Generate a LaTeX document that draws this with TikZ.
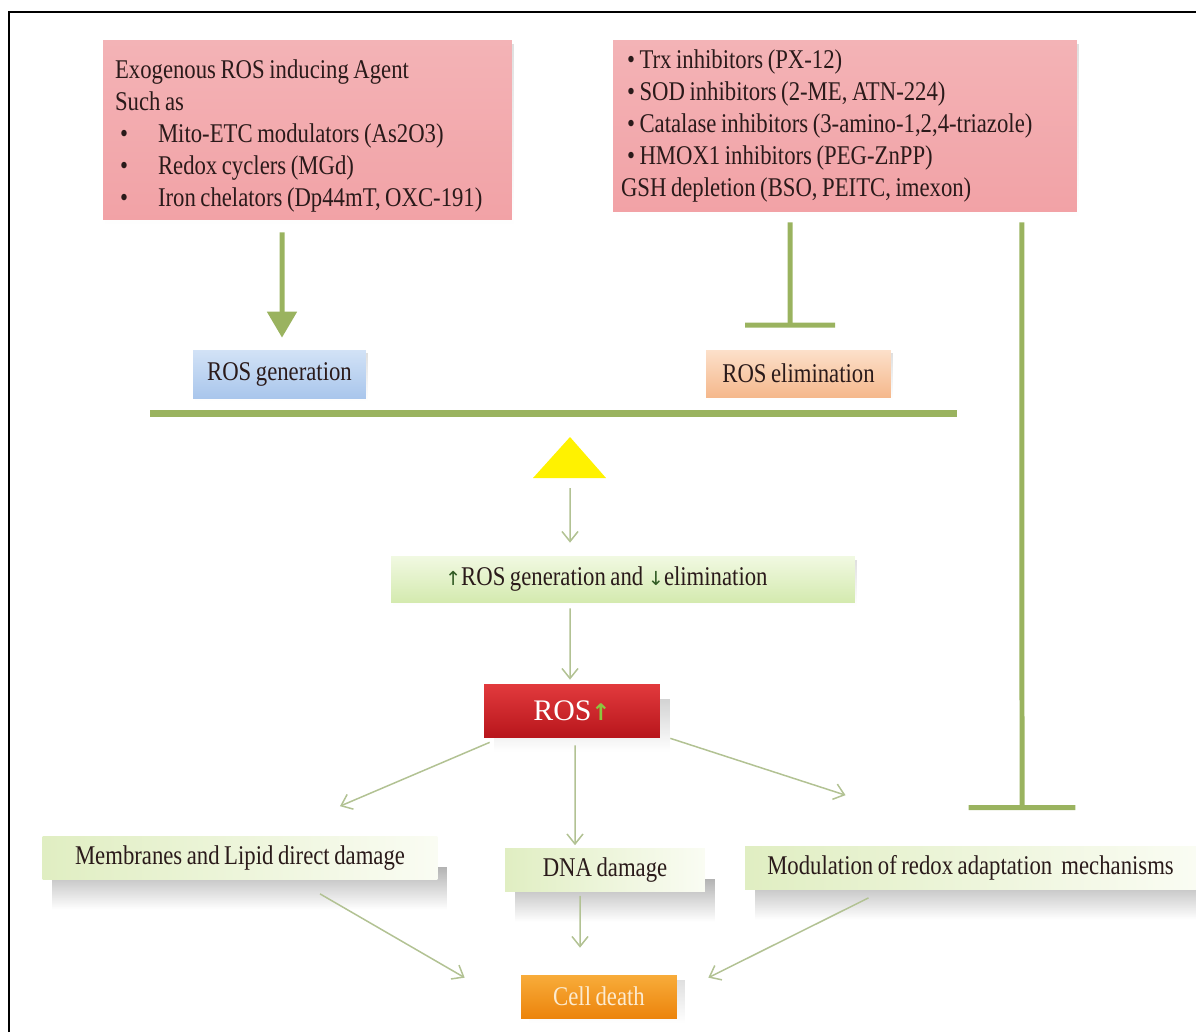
\documentclass[tikz,border=0pt]{standalone}
\usepackage{fontspec}
\setmainfont{Liberation Serif}[FakeStretch=0.84, WordSpace=0.8]
\newfontfamily\plainserif{Liberation Serif}
\newfontfamily\arrowfont{DejaVu Sans}
\usetikzlibrary{arrows.meta,shadows,fadings,positioning}

\definecolor{pinkA}{HTML}{F3B3B6}
\definecolor{pinkB}{HTML}{F8D5D6}
\definecolor{pinkC}{HTML}{F2A2A6}
\definecolor{blueA}{HTML}{D2E2F6}
\definecolor{blueB}{HTML}{A9C6EC}
\definecolor{peachA}{HTML}{FCE0CA}
\definecolor{peachB}{HTML}{F5B88C}
\definecolor{lgreenA}{HTML}{F1F9E2}
\definecolor{lgreenB}{HTML}{D4EAAF}
\definecolor{paleA}{HTML}{E0EEC2}
\definecolor{paleB}{HTML}{FAFCF3}
\definecolor{rosA}{HTML}{E23A3D}
\definecolor{rosB}{HTML}{B8161C}
\definecolor{deathA}{HTML}{F8AC3A}
\definecolor{deathB}{HTML}{EC840C}
\definecolor{deathtext}{HTML}{FCEBD0}
\definecolor{olive}{HTML}{9AB35F}
\definecolor{thinline}{HTML}{B2C293}
\definecolor{inktext}{HTML}{2A1A1A}
\definecolor{arrowgreen}{HTML}{8CC63F}
\definecolor{darkarrow}{HTML}{2F5A22}

\newcommand\agentitem{\hspace*{0.1cm}\makebox[0.76cm][l]{•}}
\newcommand\inhibitem{\hspace*{0.12cm}• }

\tikzset{
  basefont/.style={font=\fontsize{15.4}{18.2}\selectfont, text=inktext},
  natural spaces/.style={execute at begin node={\spaceskip=0pt\xspaceskip=0pt\relax}},
  agentbox/.style={basefont, draw=none, top color=pinkA, middle color=pinkB,
    bottom color=pinkC, align=left, natural spaces, inner xsep=0pt, inner ysep=0pt,
    drop shadow={shadow xshift=0.05cm, shadow yshift=-0.08cm, opacity=0.25,
      path fading=south}},
  genbox/.style={basefont, top color=blueA, bottom color=blueB,
    minimum width=3.46cm, minimum height=0.96cm,
    drop shadow={shadow xshift=0.03cm, shadow yshift=-0.06cm, opacity=0.25,
      path fading=south}},
  elimbox/.style={basefont, top color=peachA, bottom color=peachB,
    minimum width=3.7cm, minimum height=0.94cm,
    drop shadow={shadow xshift=0.03cm, shadow yshift=-0.06cm, opacity=0.25,
      path fading=south}},
  ratiobox/.style={basefont, top color=lgreenA, bottom color=lgreenB,
    minimum height=0.92cm, text width=9.28cm, inner xsep=0pt, align=left,
    natural spaces,
    drop shadow={shadow xshift=0.04cm, shadow yshift=-0.07cm, opacity=0.25,
      path fading=south}},
  effectbox/.style={basefont, left color=paleA, right color=paleB,
    minimum height=0.86cm,
    drop shadow={shadow xshift=0.2cm, shadow yshift=-0.6cm, opacity=0.55,
      fill=black!55, path fading=south}},
  rosbox/.style={top color=rosA, bottom color=rosB, minimum width=3.52cm,
    minimum height=1.06cm, font=\plainserif\fontsize{17}{20}\selectfont,
    drop shadow={shadow xshift=0.2cm, shadow yshift=-0.3cm, opacity=0.35,
      path fading=south}},
  deathbox/.style={top color=deathA, bottom color=deathB, minimum width=3.12cm,
    minimum height=0.86cm, font=\fontsize{15.4}{18}\selectfont, text=deathtext,
    drop shadow={shadow xshift=0.15cm, shadow yshift=-0.1cm, opacity=0.25,
      path fading=south}},
  pushes/.style={olive, line width=0.1cm, -{Triangle[width=0.58cm,length=0.52cm]}},
  blocks/.style={olive, line width=0.1cm},
  leads/.style={thinline, line width=0.03cm, -{Straight Barb[length=0.2cm,width=0.32cm]}},
}

\begin{document}
\begin{tikzpicture}[x=0.02cm, y=-0.02cm]
  \useasboundingbox (0,0) rectangle (1196,1032);
  \draw[line width=0.05cm] (9,1032) -- (9,12) -- (1196,12);

  % agents
  \node[agentbox, minimum width=8.18cm, minimum height=3.6cm, text width=7.7cm]
    (agents) at (307.5,130) {\rule{0pt}{0.62cm}Exogenous ROS inducing Agent\\
    Such as\\
    \agentitem Mito-ETC modulators (As2O3)\\
    \agentitem Redox cyclers (MGd)\\
    \agentitem Iron chelators (Dp44mT, OXC-191)};
  \node[agentbox, minimum width=9.28cm, minimum height=3.44cm, text width=8.96cm]
    (inhib) at (845,126) {\inhibitem Trx inhibitors (PX-12)\\
    \inhibitem SOD inhibitors (2-ME, ATN-224)\\
    \inhibitem Catalase inhibitors (3-amino-1,2,4-triazole)\\
    \inhibitem HMOX1 inhibitors (PEG-ZnPP)\\
    GSH depletion (BSO, PEITC, imexon)};

  % balance
  \node[genbox] (gen) at (279.5,374) {ROS generation};
  \node[elimbox] (elim) at (798.5,373.5) {ROS elimination};
  \draw[olive, line width=0.14cm] (150,413) -- (957,413);
  \fill[yellow] (533,478) -- (570,437) -- (606,478) -- cycle;
  \coordinate (fulcrum) at (570,478);

  % cascade
  \node[ratiobox] (ratio) at (623,579)
    {\hspace*{1.08cm}{\arrowfont\color{darkarrow}\fontsize{11}{13}\selectfont↑}ROS generation and {\arrowfont\color{darkarrow}\fontsize{11}{13}\selectfont↓}elimination};
  \node[rosbox] (ros) at (572,710.5)
    {\textcolor{white}{ROS}{\arrowfont\bfseries\color{arrowgreen}\fontsize{13}{15}\selectfont↑}};
  \node[effectbox, minimum width=7.9cm] (mem) at (240,858)
    {Membranes and Lipid direct damage};
  \node[effectbox, minimum width=4cm] (dna) at (605,870) {DNA damage};
  \node[effectbox, minimum width=9.02cm] (mod) at (970.5,868)
    {Modulation of redox adaptation\ \ mechanisms};
  \node[deathbox] (death) at (599,996.5) {Cell death};

  % connectors
  \draw[pushes, shorten <=0.24cm, shorten >=0.24cm]
    ([xshift=-0.51cm]agents.south) -- ([xshift=0.05cm]gen.north);
  \draw[blocks, -{Bar[width=1.8cm]}, shorten <=0.2cm, shorten >=0.44cm]
    ([xshift=-1.1cm]inhib.south) -- ([xshift=-0.17cm]elim.north);
  \draw[blocks, -{Bar[width=2.14cm]}, shorten <=0.2cm, shorten >=0.72cm]
    ([xshift=3.54cm]inhib.south) -- ([xshift=1.03cm]mod.north);
  \draw[leads, shorten >=0.26cm] ([yshift=-0.2cm]fulcrum) -- ([xshift=-1.06cm]ratio.north);
  \draw[leads, shorten <=0.12cm, shorten >=0.08cm]
    ([xshift=-1.06cm]ratio.south) -- ([xshift=-0.04cm]ros.north);
  \draw[leads] ([xshift=0.12cm, yshift=-0.1cm]ros.south west)
    -- ([xshift=2cm, yshift=0.6cm]mem.north);
  \draw[leads, shorten <=0.16cm, shorten >=0.06cm]
    ([xshift=0.06cm]ros.south) -- ([xshift=-0.6cm]dna.north);
  \draw[leads] ([xshift=0.2cm, yshift=-0.02cm]ros.south east)
    -- ([xshift=-2.5cm, yshift=1.02cm]mod.north);
  \draw[leads] ([xshift=1.6cm, yshift=-0.28cm]mem.south)
    -- ([xshift=-1.12cm, yshift=-0.06cm]death.north west);
  \draw[leads, shorten <=0.08cm, shorten >=0.54cm]
    ([xshift=-0.5cm]dna.south) -- ([xshift=-0.38cm]death.north);
  \draw[leads] ([xshift=-2.04cm, yshift=-0.16cm]mod.south)
    -- ([xshift=0.62cm, yshift=-0.06cm]death.north east);
\end{tikzpicture}
\end{document}
